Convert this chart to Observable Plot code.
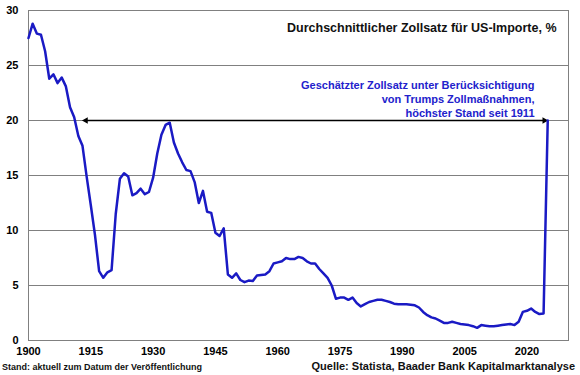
<!DOCTYPE html>
<html><head><meta charset="utf-8">
<script src="https://cdn.jsdelivr.net/npm/d3@7"></script>
<script src="https://cdn.jsdelivr.net/npm/@observablehq/plot@0.6"></script>
<style>
body{margin:0;background:#fff;font-family:"Liberation Sans",Arial,sans-serif;}
#wrap{width:580px;}
.cap{display:flex;justify-content:space-between;align-items:baseline;height:15px;font-weight:bold;color:#111;padding:0 5px 0 2px;}
.cap .l{font-size:9px;}
.cap .r{font-size:11px;}
</style></head><body><div id="wrap"></div>
<div class="cap"><span class="l" id="capL"></span><span class="r" id="capR"></span></div>
<script>
const startYear = 1900;
const tariff = [
  27.5, 28.8, 27.9, 27.8, 26.3, 23.8, 24.2, 23.4, 23.9, 23.1,
  21.2, 20.3, 18.6, 17.7, 14.9, 12.3, 9.6, 6.3, 5.7, 6.2,
  6.4, 11.5, 14.7, 15.2, 14.9, 13.2, 13.4, 13.8, 13.3, 13.5,
  14.8, 17.0, 18.7, 19.6, 19.8, 18.0, 17.0, 16.2, 15.5, 15.4,
  14.4, 12.5, 13.6, 11.7, 11.6, 9.8, 9.5, 10.2, 6.0, 5.7,
  6.1, 5.5, 5.3, 5.45, 5.4, 5.9, 5.95, 6.0, 6.3, 7.0,
  7.1, 7.2, 7.5, 7.4, 7.4, 7.6, 7.5, 7.2, 7.0, 7.0,
  6.5, 6.1, 5.7, 5.0, 3.8, 3.9, 3.9, 3.7, 3.9, 3.4,
  3.1, 3.3, 3.5, 3.6, 3.7, 3.7, 3.6, 3.5, 3.35, 3.3,
  3.3, 3.3, 3.25, 3.2, 3.0, 2.6, 2.3, 2.1, 2.0, 1.8,
  1.6, 1.6, 1.7, 1.6, 1.5, 1.45, 1.4, 1.3, 1.15, 1.4,
  1.35, 1.3, 1.3, 1.35, 1.4, 1.45, 1.5, 1.4, 1.7, 2.6,
  2.7, 2.9, 2.6, 2.4, 2.45, 20.0
];
const years = tariff.map((_, i) => startYear + i);
const xTicks = [1900, 1915, 1930, 1945, 1960, 1975, 1990, 2005, 2020];
const yTicks = [0, 5, 10, 15, 20, 25, 30];
const arrowYears = [1913.8, 2024.2];
const arrowLevel = 20;
const titleText = "Durchschnittlicher Zollsatz für US-Importe, %";
const noteLines = ["Geschätzter Zollsatz unter Berücksichtigung", "von Trumps Zollmaßnahmen,", "höchster Stand seit 1911"];
const captionLeft = "Stand: aktuell zum Datum der Veröffentlichung";
const captionRight = "Quelle: Statista, Baader Bank Kapitalmarktanalyse";

const data = years.map((year, i) => ({year, value: tariff[i]}));
const arrow = [{x1: arrowYears[0], x2: arrowYears[1], y: arrowLevel}];
const heads = [{x: arrowYears[0], y: arrowLevel, rot: -90}, {x: arrowYears[1], y: arrowLevel, rot: 90}];

const chart = Plot.plot({
  width: 580, height: 360,
  marginLeft: 28, marginRight: 12, marginTop: 10, marginBottom: 20,
  style: {fontFamily: "Liberation Sans, Arial, sans-serif", fontSize: "11px", fontWeight: "bold", color: "#000", background: "#fff"},
  x: {domain: [1900, 2030], ticks: xTicks, tickFormat: d => String(d), tickSize: 0, tickPadding: 7, label: null},
  y: {domain: [0, 30], ticks: yTicks, tickSize: 0, tickPadding: 10, label: null},
  marks: [
    Plot.ruleY(yTicks.slice(1), {stroke: "#808080", strokeWidth: 1, strokeOpacity: 1}),
    Plot.frame({stroke: "#808080", strokeOpacity: 1}),
    Plot.link(arrow, {x1: "x1", x2: "x2", y1: "y", y2: "y", stroke: "#000", strokeWidth: 1.6}),
    Plot.dot(heads, {x: "x", y: "y", rotate: "rot", symbol: "triangle2", r: 3.2, fill: "#000", stroke: "none"}),
    Plot.line(data, {x: "year", y: "value", stroke: "#1a1ac4", strokeWidth: 2.5, strokeLinejoin: "round"}),
    Plot.text([titleText], {text: d => d, frameAnchor: "top-right", dx: -12, dy: 17, lineAnchor: "middle", fontSize: 12.5, fontWeight: "bold", fill: "#111"}),
    Plot.text([noteLines.join("\n")], {text: d => d, frameAnchor: "top-right", dx: -34, dy: 69, lineAnchor: "top", lineHeight: 1.27, fill: "#2222cc", fontSize: 11, fontWeight: "bold"})
  ]
});
document.getElementById("wrap").appendChild(chart);
document.getElementById("capL").textContent = captionLeft;
document.getElementById("capR").textContent = captionRight;
</script>
</body></html>
